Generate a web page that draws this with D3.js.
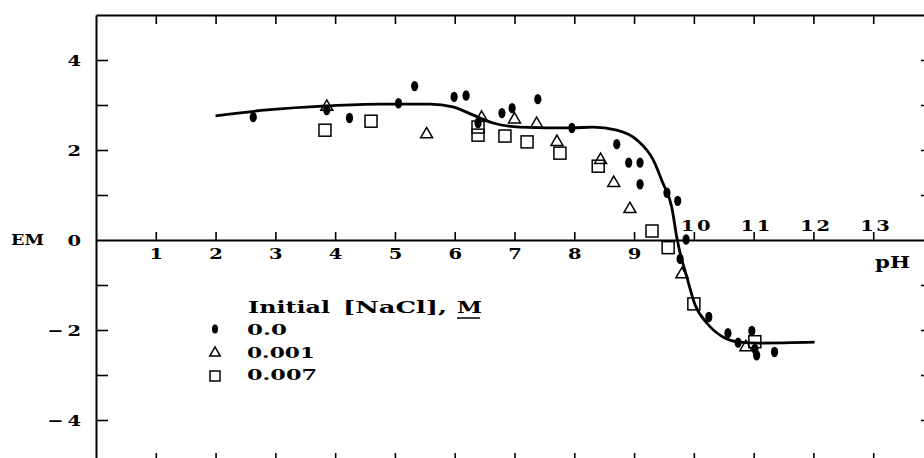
<!DOCTYPE html>
<html><head><meta charset="utf-8">
<script src="https://cdn.jsdelivr.net/npm/d3@7"></script>
<style>
body{margin:0;background:#fff;}
svg{display:block;}
text{font-family:"DejaVu Serif",serif;font-weight:bold;fill:#000;}
</style></head>
<body>
<svg id="c" width="924" height="458"></svg>
<script>
// ---- data ----
const dotPH = [2.63,3.86,4.24,5.06,5.33,5.99,6.19,6.39,6.79,6.96,7.39,7.96,8.71,8.91,9.10,9.10,9.55,9.73,9.87,9.77,10.25,10.57,10.74,10.97,11.02,11.05,11.35];
const dotEM = [2.73,2.89,2.71,3.04,3.42,3.18,3.21,2.60,2.82,2.93,3.13,2.49,2.13,1.72,1.72,1.24,1.05,0.87,0.01,-0.42,-1.71,-2.07,-2.28,-2.02,-2.42,-2.56,-2.49];
const triPH = [3.86,5.53,6.45,7.00,7.37,7.71,8.44,8.66,8.93,9.80,10.87];
const triEM = [2.98,2.37,2.74,2.70,2.60,2.20,1.80,1.29,0.71,-0.74,-2.36];
const sqPH = [3.83,4.60,6.39,6.39,6.84,7.21,7.76,8.40,9.30,9.57,10.00,11.02];
const sqEM = [2.44,2.64,2.51,2.33,2.31,2.18,1.93,1.64,0.20,-0.17,-1.42,-2.26];
const curvePH = [2.0,2.86,3.86,4.75,5.59,5.97,6.3,6.64,7.09,7.96,8.31,8.71,9.05,9.32,9.48,9.63,9.72,9.77,9.88,10.02,10.22,10.48,10.77,11.1,12.02];
const curveEM = [2.76,2.89,2.98,3.02,3.02,2.96,2.78,2.60,2.51,2.49,2.51,2.44,2.22,1.78,1.27,0.73,0.02,-0.29,-0.81,-1.44,-1.85,-2.15,-2.27,-2.29,-2.27];
const xTicksBelow = [1,2,3,4,5,6,7,8,9];
const xTicksAbove = [10,11,12,13];
const yTicks = [-4,-3,-2,-1,1,2,3,4];
const yLabels = [-4,-2,0,2,4];
const legendTitle = ["Initial","[NaCl],"];
const legendUnit = "M";
const legendLabels = ["0.0","0.001","0.007"];

const svg = d3.select("#c");
const x = d3.scaleLinear().domain([0,14]).range([96,933]);
const y = d3.scaleLinear().domain([-5,5]).range([465,15]);
const allX = d3.range(1,14);
const SX = 1.3;

function styleAxis(g){
  g.selectAll("path.domain").attr("stroke","#000").attr("stroke-width",2);
  g.selectAll(".tick line").attr("stroke","#000").attr("stroke-width",1.6);
  g.selectAll(".tick text").style("font-family","'DejaVu Serif',serif").style("font-weight","bold");
}
// top border
svg.append("g").attr("transform",`translate(0,${y(5)})`)
  .call(d3.axisBottom(x).tickValues(allX).tickSizeInner(9).tickSizeOuter(0).tickFormat(""))
  .call(styleAxis);
// bottom border
svg.append("g").attr("transform",`translate(0,${y(-5)})`)
  .call(d3.axisTop(x).tickValues(allX).tickSizeInner(12).tickSizeOuter(0).tickFormat(""))
  .call(styleAxis);
// right border
svg.append("g").attr("transform",`translate(${x(14)},0)`)
  .call(d3.axisLeft(y).tickValues(yTicks).tickSizeInner(12).tickSizeOuter(0).tickFormat(""))
  .call(styleAxis);
// left axis ticks
svg.append("g").attr("transform",`translate(${x(0)},0)`)
  .call(d3.axisRight(y).tickValues(yTicks).tickSizeInner(12).tickSizeOuter(0).tickFormat(""))
  .call(styleAxis);
// left labels
svg.append("g").attr("transform",`translate(${x(0)},0)`)
  .call(d3.axisLeft(y).tickValues(yLabels).tickSize(0).tickPadding(15).tickFormat(d=>d<0?"\u2212\u2009"+Math.abs(d):String(d)))
  .call(g=>g.select("path.domain").remove())
  .call(styleAxis)
  .call(g=>g.selectAll("text").attr("font-size",15).attr("dy","0.36em")
     .attr("x",-15/SX).attr("transform",`scale(${SX},1)`));
// zero line axis, labels below
svg.append("g").attr("transform",`translate(0,${y(0)})`)
  .call(d3.axisBottom(x).tickValues(xTicksBelow).tickSizeInner(-8).tickSizeOuter(0).tickPadding(8))
  .call(styleAxis)
  .call(g=>g.selectAll("text").attr("font-size",15).attr("transform",`scale(${SX},1)`));
// labels above for 10-13
svg.append("g").attr("transform",`translate(0,${y(0)})`)
  .call(d3.axisTop(x).tickValues(xTicksAbove).tickSizeInner(8).tickSizeOuter(0).tickPadding(1))
  .call(g=>g.select("path.domain").remove())
  .call(styleAxis)
  .call(g=>g.selectAll("text").attr("font-size",15).style("letter-spacing","2px").attr("x",2).attr("transform",`scale(${SX},1)`));

svg.append("text").attr("x",11).attr("y",y(0)+5).attr("font-size",15)
  .attr("textLength",33).attr("lengthAdjust","spacingAndGlyphs").text("EM");
svg.append("text").attr("x",875).attr("y",268).attr("font-size",16)
  .attr("textLength",35).attr("lengthAdjust","spacingAndGlyphs").text("pH");

// fitted curve
const curve = curvePH.map((p,i)=>[p,curveEM[i]]);
svg.append("path").datum(curve)
  .attr("fill","none").attr("stroke","#000").attr("stroke-width",2.8)
  .attr("d", d3.line().x(d=>x(d[0])).y(d=>y(d[1])).curve(d3.curveMonotoneX));

// markers
const dots = dotPH.map((p,i)=>[p,dotEM[i]]);
const tris = triPH.map((p,i)=>[p,triEM[i]]);
const sqs = sqPH.map((p,i)=>[p,sqEM[i]]);
const triPath = d3.symbol().type(d3.symbolTriangle).size(62);
svg.append("g").selectAll("path").data(tris).join("path")
  .attr("transform",d=>`translate(${x(d[0])},${y(d[1])+1})`)
  .attr("d",triPath()).attr("fill","none").attr("stroke","#000").attr("stroke-width",1.5);
svg.append("g").selectAll("rect").data(sqs).join("rect")
  .attr("x",d=>x(d[0])-6).attr("y",d=>y(d[1])-6).attr("width",12).attr("height",12)
  .attr("fill","none").attr("stroke","#000").attr("stroke-width",1.5);
svg.append("g").selectAll("ellipse").data(dots).join("ellipse")
  .attr("cx",d=>x(d[0])).attr("cy",d=>y(d[1])).attr("rx",3.6).attr("ry",5.2).attr("fill","#000");

// legend
const lg = svg.append("g");
lg.append("text").attr("x",248).attr("y",313).attr("font-size",17)
  .attr("textLength",82).attr("lengthAdjust","spacingAndGlyphs").text(legendTitle[0]);
lg.append("text").attr("x",343).attr("y",313).attr("font-size",17)
  .attr("textLength",104).attr("lengthAdjust","spacingAndGlyphs").text(legendTitle[1]);
lg.append("text").attr("x",457).attr("y",313).attr("font-size",17)
  .attr("textLength",25).attr("lengthAdjust","spacingAndGlyphs").text(legendUnit);
lg.append("line").attr("x1",457).attr("x2",480).attr("y1",318).attr("y2",318).attr("stroke","#000").attr("stroke-width",1.5);
const rows = [335,358,380];
const widths = [40,68,70];
legendLabels.forEach((t,i)=>{
  lg.append("text").attr("x",247).attr("y",rows[i]).attr("font-size",15)
    .attr("textLength",widths[i]).attr("lengthAdjust","spacingAndGlyphs").text(t);
});
lg.append("ellipse").attr("cx",215).attr("cy",329).attr("rx",3).attr("ry",4.5).attr("fill","#000");
lg.append("path").attr("transform","translate(215,353)").attr("d",d3.symbol().type(d3.symbolTriangle).size(48)())
  .attr("fill","none").attr("stroke","#000").attr("stroke-width",1.5);
lg.append("rect").attr("x",210).attr("y",371).attr("width",10).attr("height",10).attr("fill","none").attr("stroke","#000").attr("stroke-width",1.5);
</script>
</body></html>
